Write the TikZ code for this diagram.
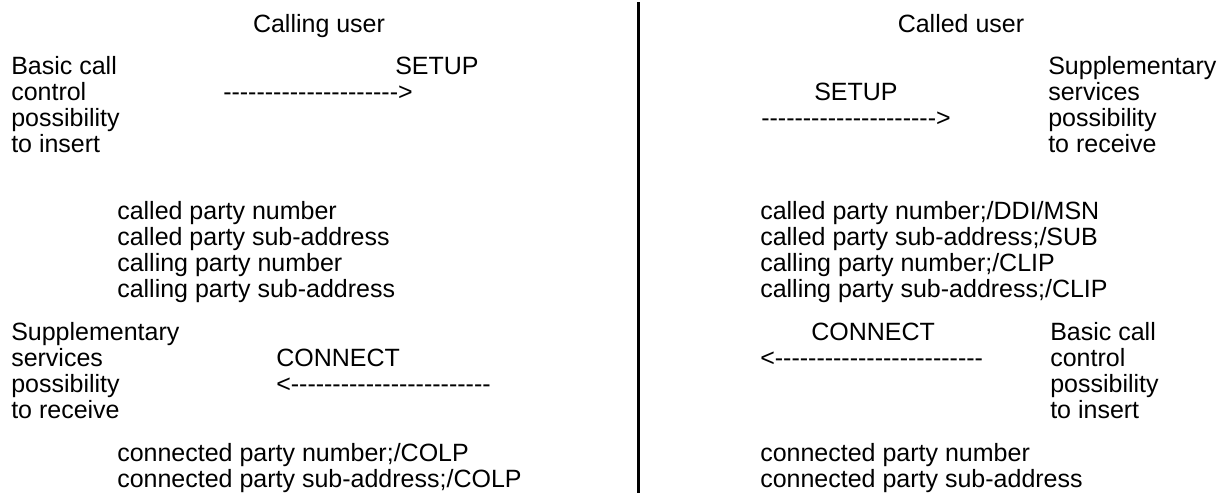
\documentclass[tikz,border=0pt]{standalone}
\usepackage{fontspec}
\setmainfont{Liberation Sans}[Ligatures=TeXOff]
\begin{document}
\begin{tikzpicture}[x=0.75pt,y=0.75pt,
	txt/.style={anchor=base west,inner sep=0pt,align=left,font=\fontsize{18.75}{19.5}\selectfont},
	ttl/.style={anchor=base,inner sep=0pt,font=\fontsize{18.75}{19.5}\selectfont}]
	\useasboundingbox (0,0) rectangle (1223,-493);
	
	\draw[line width=2.5pt][black](638.5,-2)--(638.5,-493);
	
	% multi-line nodes sit on the baseline of their last line
	\node[ttl] (calling) at (319,-32){Calling user};
	\node[ttl] (called) at (961,-32){Called user};
	
	\node[txt] (bccL) at (11,-152){Basic call\\control\\possibility\\to insert};
	\node[txt] (setupL) at (395,-74){SETUP};
	\node[txt] (arrL) at (223,-100){--------------------->};
	\node[txt] (ssR) at (1048,-152){Supplementary\\services\\possibility\\to receive};
	\node[txt] (setupR) at (814,-100){SETUP};
	\node[txt] (arrR) at (761,-126){--------------------->};
	
	\node[txt] (infoL) at (117,-297){called party number\\called party sub-address\\calling party number\\calling party sub-address};
	\node[txt] (infoR) at (760,-297){called party number;/DDI/MSN\\called party sub-address;/SUB\\calling party number;/CLIP\\calling party sub-address;/CLIP};
	
	\node[txt] (ssL) at (11,-418){Supplementary\\services\\possibility\\to receive};
	\node[txt] (connL) at (276,-366){CONNECT};
	\node[txt] (arrcL) at (276,-392){<------------------------};
	\node[txt] (connR) at (811,-340){CONNECT};
	\node[txt] (arrcR) at (760,-366){<-------------------------};
	\node[txt] (bccR) at (1050,-418){Basic call\\control\\possibility\\to insert};
	
	\node[txt] (colpL) at (117,-487){connected party number;/COLP\\connected party sub-address;/COLP};
	\node[txt] (colpR) at (760,-487){connected party number\\connected party sub-address};
\end{tikzpicture}
\end{document}
